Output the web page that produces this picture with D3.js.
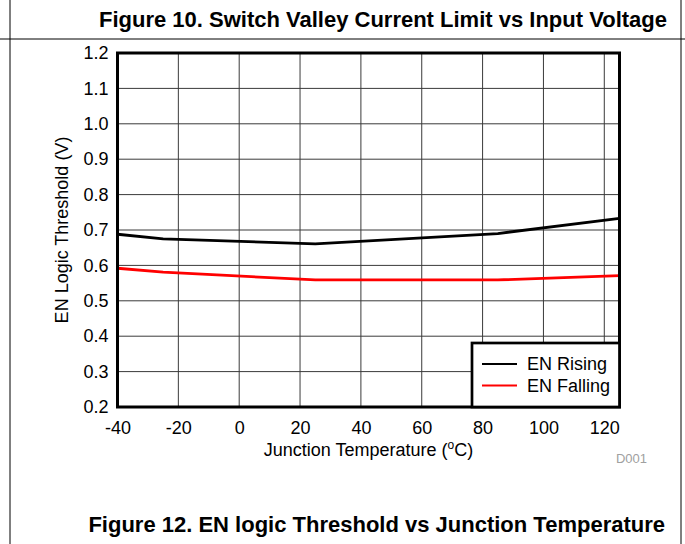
<!DOCTYPE html>
<html>
<head>
<meta charset="utf-8">
<script src="https://cdn.jsdelivr.net/npm/d3@7"></script>
<style>
  html, body { margin: 0; padding: 0; background: #fff; }
  svg { display: block; font-family: "Liberation Sans", Arial, sans-serif; }
</style>
</head>
<body>
<svg id="chart" width="685" height="544"></svg>
<script>
// Junction temperature samples (°C) and EN thresholds (V)
const temps = [-40, -25, 25, 85, 125];
const enRising = [0.688, 0.675, 0.661, 0.690, 0.733];
const enFalling = [0.592, 0.581, 0.559, 0.559, 0.571];

const xTicks = [-40, -20, 0, 20, 40, 60, 80, 100, 120];
const yTicks = [0.2, 0.3, 0.4, 0.5, 0.6, 0.7, 0.8, 0.9, 1.0, 1.1, 1.2];

const seriesNames = ["EN Rising", "EN Falling"];
const seriesColors = ["#000000", "#ff0000"];

(function () {
const svg = d3.select("#chart");
const W = 685, H = 544;
const FS = 18;

// page frame
svg.append("line").attr("x1", 10).attr("x2", 10).attr("y1", 0).attr("y2", H)
  .attr("stroke", "#000").attr("stroke-width", 1);
svg.append("line").attr("x1", 681).attr("x2", 681).attr("y1", 0).attr("y2", H)
  .attr("stroke", "#000").attr("stroke-width", 1);
svg.append("line").attr("x1", 0).attr("x2", W).attr("y1", 39).attr("y2", 39)
  .attr("stroke", "#000").attr("stroke-width", 1);

// figure captions
svg.append("text").attr("x", 667).attr("y", 27).attr("text-anchor", "end")
  .attr("font-weight", "bold").attr("font-size", 22)
  .text("Figure 10. Switch Valley Current Limit vs Input Voltage");
svg.append("text").attr("x", 665).attr("y", 532).attr("text-anchor", "end")
  .attr("font-weight", "bold").attr("font-size", 22)
  .text("Figure 12. EN logic Threshold vs Junction Temperature");

const pl = 117.5, pr = 619.5, pt = 53, pb = 407;
const x = d3.scaleLinear().domain([-40, 125]).range([pl, pr]);
const y = d3.scaleLinear().domain([0.2, 1.2]).range([pb, pt]);

// grid
const g = svg.append("g");
g.selectAll(".vg").data(xTicks).enter().append("line")
  .attr("x1", d => x(d)).attr("x2", d => x(d)).attr("y1", pt).attr("y2", pb)
  .attr("stroke", "#3a3a3a").attr("stroke-width", 1);
g.selectAll(".hg").data(yTicks).enter().append("line")
  .attr("x1", pl).attr("x2", pr).attr("y1", d => y(d)).attr("y2", d => y(d))
  .attr("stroke", "#3a3a3a").attr("stroke-width", 1);

// tick labels via d3 axes
const xAxis = d3.axisBottom(x).tickValues(xTicks).tickSize(0).tickPadding(14)
  .tickFormat(d => String(d));
svg.append("g").attr("transform", `translate(0,${pb})`).call(xAxis)
  .call(a => a.select(".domain").remove())
  .selectAll("text").attr("font-size", FS).attr("fill", "#000")
  .attr("font-family", "Liberation Sans, Arial, sans-serif");

const yAxis = d3.axisLeft(y).tickValues(yTicks).tickSize(0).tickPadding(9)
  .tickFormat(d3.format(".1f"));
svg.append("g").attr("transform", `translate(${pl},0)`).call(yAxis)
  .call(a => a.select(".domain").remove())
  .selectAll("text").attr("font-size", FS).attr("fill", "#000")
  .attr("font-family", "Liberation Sans, Arial, sans-serif");

// data lines
const series = [enRising, enFalling];
const line = d3.line().x((d, i) => x(temps[i])).y(d => y(d));
series.forEach((s, k) => {
  svg.append("path").datum(s).attr("d", line)
    .attr("fill", "none").attr("stroke", seriesColors[k]).attr("stroke-width", 2.8);
});

// plot border
svg.append("rect").attr("x", pl).attr("y", pt)
  .attr("width", pr - pl).attr("height", pb - pt)
  .attr("fill", "none").attr("stroke", "#000").attr("stroke-width", 3);

// legend
const lg = svg.append("g");
lg.append("rect").attr("x", 472).attr("y", 343).attr("width", pr - 472).attr("height", pb - 343)
  .attr("fill", "#fff").attr("stroke", "#000").attr("stroke-width", 2.7);
seriesNames.forEach((n, k) => {
  const yy = 364 + k * 21.5;
  lg.append("line").attr("x1", 482).attr("x2", 517).attr("y1", yy).attr("y2", yy)
    .attr("stroke", seriesColors[k]).attr("stroke-width", 2);
  lg.append("text").attr("x", 527).attr("y", yy).attr("dy", "0.35em")
    .attr("font-size", FS).text(n);
});

// axis titles
const xt = svg.append("text").attr("x", (pl + pr) / 2).attr("y", 456)
  .attr("text-anchor", "middle").attr("font-size", FS);
xt.append("tspan").text("Junction Temperature (");
xt.append("tspan").attr("dy", -7).attr("font-size", 12).text("o");
xt.append("tspan").attr("dy", 7).text("C)");

svg.append("text").attr("transform", `translate(67.5,${(pt + pb) / 2}) rotate(-90)`)
  .attr("text-anchor", "middle").attr("font-size", FS)
  .text("EN Logic Threshold (V)");

svg.append("text").attr("x", 647).attr("y", 463).attr("text-anchor", "end")
  .attr("font-size", 13).attr("fill", "#a0a0a0").text("D001");
})();
</script>
</body>
</html>
